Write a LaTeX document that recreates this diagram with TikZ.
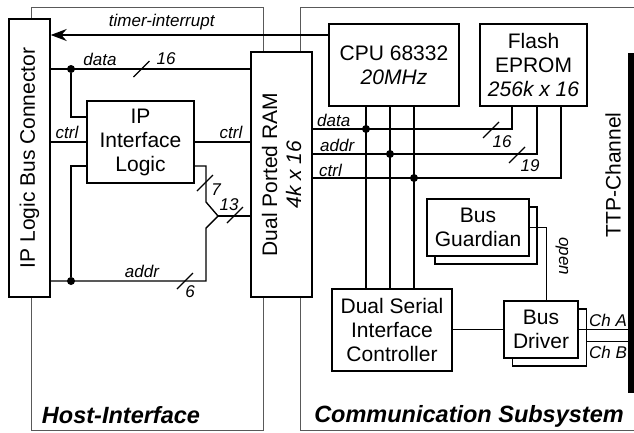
\documentclass[tikz,border=0pt]{standalone}
\usepackage{fontspec}
\setmainfont{Liberation Sans}
\usetikzlibrary{arrows.meta,calc}

\tikzset{busmark/.pic={\draw[line width=1.3pt] (-8,8) -- (8,-8);}}

\begin{document}
\begin{tikzpicture}[x=1pt,y=-1pt,>=Stealth,
  box/.style={draw,line width=1.4pt,fill=white,align=center,inner sep=0pt,
    font=\fontsize{21}{24}\selectfont},
  lbl/.style={font=\fontsize{17}{19}\selectfont\itshape,inner sep=0pt},
  title/.style={font=\fontsize{23.5}{26}\selectfont\bfseries\itshape,inner sep=0pt},
  bus/.style={line width=1.4pt},
  wire/.style={line width=0.9pt},
  frame/.style={draw=black!65,line width=0.8pt},
  dot/.style={circle,fill,inner sep=0pt,minimum size=8pt}]
  \useasboundingbox (0,0) rectangle (634,432);
  % the two sub-systems
  \draw[frame] (31,7) rectangle (263,430);
  \draw[frame] (634,7) -- (300,7) -- (300,430) -- (634,430);
  \node[title] (hostlbl) at (121,415) {Host-Interface};
  \node[title] (commlbl) at (469,416) {Communication Subsystem};

  % host interface
  \node[box,minimum width=41,minimum height=278] (conn) at (29.5,158) {};
  \node[rotate=90,font=\fontsize{21}{24}\selectfont] (connlbl) at (conn.center) {IP Logic Bus Connector};
  \node[box,minimum width=107,minimum height=82] (ipl) at (140.5,142) {IP\\Interface\\Logic};
  \node[box,minimum width=61,minimum height=245] (ram) at (281.5,174.5) {};
  \node[rotate=90,align=center,font=\fontsize{21}{24}\selectfont] (ramlbl) at (ram.center) {Dual Ported RAM\\\textit{4k x 16}};

  % communication subsystem
  \node[box,minimum width=130,minimum height=82] (cpu) at (394,65) {CPU 68332\\\textit{20MHz}};
  \node[box,minimum width=107,minimum height=82] (flash) at (533.5,65) {Flash\\EPROM\\\textit{256k x 16}};
  \node[box,minimum width=120,minimum height=82] (dsic) at (392,330) {Dual Serial\\Interface\\Controller};
  \node[box,minimum width=102,minimum height=57] (guardsh) at (486,235.5) {};
  \node[box,minimum width=102,minimum height=57] (guard) at (478,227.5) {Bus\\Guardian};
  \node[box,minimum width=74,minimum height=57] (drvsh) at (549.5,337.5) {};
  \node[box,minimum width=74,minimum height=57] (drv) at (541,329.5) {Bus\\Driver};
  \node[fill,inner sep=0pt,minimum width=6,minimum height=340] (ttp) at (631,223) {};
  \node[rotate=90,font=\fontsize{21}{24}\selectfont] (ttplbl) at (613,175) {TTP-Channel};

  % junctions
  \node[dot] (jd) at (71,69) {};
  \node[dot] (ja) at (71,281) {};
  \coordinate (ju) at (206,202);
  \coordinate (jl) at (206,228);
  \coordinate (jm) at (218,216);
  \node[dot] (cd) at (366,129) {};
  \node[dot] (ca) at (390,154) {};
  \node[dot] (cc) at (414,178) {};

  % host side buses
  \draw[bus,-{Stealth[length=16pt,width=12pt]}] (cpu.west |- 0,35) -- (conn.east |- 0,35)
    node[lbl,pos=0.6,above=4pt] (timerlbl) {timer-interrupt};
  \draw[bus] (conn.east |- jd) -- (ram.west |- jd);
  \draw[bus] (jd) |- (ipl.west |- 0,117);
  \draw[bus] (conn.east |- ipl.west) -- (ipl.west);
  \draw[bus] (ipl.east) -- (ram.west |- ipl.east);
  \draw[bus] (ipl.west |- 0,166) -| (ja);
  \draw[bus] (conn.east |- ja) -| (jl) -- (jm);
  \draw[bus] (ipl.east |- 0,166) -| (ju) -- (jm);
  \draw[bus] (jm) -- (ram.west |- jm);
  \pic at (141.5,69) {busmark};
  \pic at (185,281) {busmark};
  \pic at (205,183) {busmark};
  \pic at (235,215) {busmark};
  \node[lbl] (hdata) at (100,59) {data};
  \node[lbl] (hdataw) at (166,59) {16};
  \node[lbl] (hctrl) at (67,132) {ctrl};
  \node[lbl] (hctrl2) at (231,132) {ctrl};
  \node[lbl] (haddr) at (142,271) {addr};
  \node[lbl] (haddrw) at (190,292) {6};
  \node[lbl] (hlow) at (216,190) {7};
  \node[lbl] (hhigh) at (229,205) {13};

  % processor buses
  \draw[bus] (ram.east |- cd) -| ([xshift=-21.5]flash.south);
  \draw[bus] (ram.east |- ca) -| ([xshift=3.5]flash.south);
  \draw[bus] (ram.east |- cc) -| ([xshift=27.5]flash.south);
  \draw[bus] ([xshift=-28]cpu.south) -- ([xshift=-28]cpu.south |- dsic.north);
  \draw[bus] ([xshift=-4]cpu.south) -- ([xshift=-4]cpu.south |- dsic.north);
  \draw[bus] ([xshift=20]cpu.south) -- ([xshift=20]cpu.south |- dsic.north);
  \pic at (491,130) {busmark};
  \pic at (517,155) {busmark};
  \node[lbl,anchor=west] (cdata) at (317,120) {data};
  \node[lbl,anchor=west] (caddr) at (320,145) {addr};
  \node[lbl,anchor=west] (cctrl) at (319,170) {ctrl};
  \node[lbl] (cdataw) at (502,142) {16};
  \node[lbl] (caddrw) at (530,166) {19};

  % channel side
  \draw[wire] (dsic.east |- drv.west) -- (drv.west);
  \draw[wire] (guard.east) -| ([xshift=5]drv.north);
  \node[lbl,rotate=-90] (openlbl) at (562,256) {open};
  \draw[wire] (drv.east) -- (drv.east -| ttp.west);
  \draw[wire] ([yshift=-4]drvsh.east) -- ([yshift=-4]drvsh.east -| ttp.west);
  \node[lbl] (chalbl) at (608,320) {Ch A};
  \node[lbl] (chblbl) at (608,352) {Ch B};
\end{tikzpicture}
\end{document}
